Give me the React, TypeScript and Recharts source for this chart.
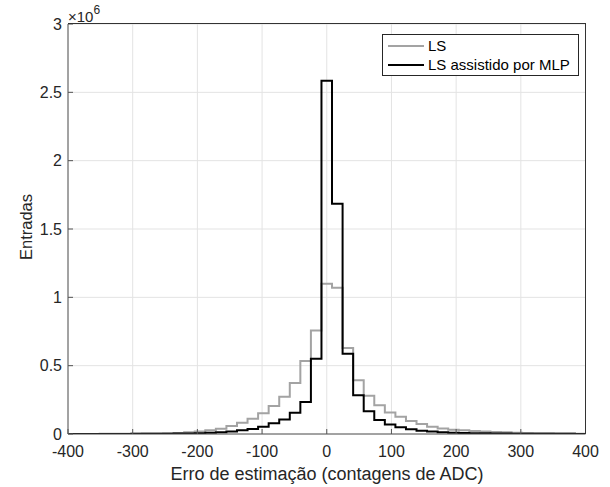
import { LineChart, Line, XAxis, YAxis, CartesianGrid } from 'recharts';

const xRange = [-400, 400];
const binCount = 49;
const xTicks = [-400, -300, -200, -100, 0, 100, 200, 300, 400];
const yTicks = [0, 0.5, 1, 1.5, 2, 2.5, 3];

// entries per bin (x 10^6), left to right
const lsCounts = [
  0.0005, 0.0006, 0.0008, 0.001, 0.001, 0.0015, 0.002, 0.003, 0.004, 0.006, 0.008, 0.012,
  0.018, 0.027, 0.039, 0.058, 0.082, 0.112, 0.151, 0.204, 0.272, 0.374, 0.534, 0.757,
  1.1, 1.07, 0.63, 0.393, 0.279, 0.211, 0.158, 0.126, 0.095, 0.073, 0.053, 0.041,
  0.032, 0.027, 0.022, 0.018, 0.015, 0.012, 0.01, 0.008, 0.006, 0.005, 0.004, 0.003, 0.002,
];
const mlpCounts = [
  0.0002, 0.0003, 0.0004, 0.0005, 0.0006, 0.0008, 0.001, 0.001, 0.0015, 0.002, 0.003, 0.004,
  0.006, 0.009, 0.013, 0.019, 0.027, 0.036, 0.053, 0.078, 0.107, 0.155, 0.235, 0.551,
  2.585, 1.685, 0.588, 0.284, 0.167, 0.102, 0.07, 0.049, 0.034, 0.024, 0.018, 0.013,
  0.01, 0.008, 0.006, 0.005, 0.004, 0.003, 0.002, 0.002, 0.001, 0.001, 0.001, 0.001, 0.0005,
];

const seriesNames = ['LS', 'LS assistido por MLP'];
const seriesColors = ['#a3a3a3', '#000000'];

// stairs: one point per left bin edge, plus the closing right edge
const binWidth = (xRange[1] - xRange[0]) / binCount;
const data = lsCounts.map((v, i) => ({ x: xRange[0] + i * binWidth, ls: v, mlp: mlpCounts[i] }));
data.push({ x: xRange[1], ls: lsCounts[binCount - 1], mlp: mlpCounts[binCount - 1] });

const font = '"Liberation Sans", Arial, Helvetica, sans-serif';
const axisColor = '#555555';
const frameColor = '#333333';
const textColor = '#262626';
const tickStyle = { fontSize: 16, fill: textColor, fontFamily: font };

const App = () => {
  return (
    <div style={{ position: 'absolute', left: 0, top: 0, width: 610, height: 487, background: '#fff', fontFamily: font }}>
      <LineChart width={610} height={487} data={data} margin={{ top: 24, right: 24.5, left: 0, bottom: 0 }}>
        <CartesianGrid stroke="#e3e3e3" strokeWidth={1} />
        <XAxis
          dataKey="x"
          type="number"
          domain={xRange}
          ticks={xTicks}
          allowDataOverflow
          height={53}
          tickSize={-5}
          tickMargin={17}
          tick={tickStyle}
          stroke={axisColor}
          tickLine={{ stroke: axisColor }}
          label={() => (
            <text x={327} y={480} textAnchor="middle" fontSize={18} fill={textColor} fontFamily={font}>
              Erro de estimação (contagens de ADC)
            </text>
          )}
        />
        <YAxis
          type="number"
          domain={[0, 3]}
          ticks={yTicks}
          allowDataOverflow
          width={68}
          tickSize={-5}
          tickMargin={11}
          tick={tickStyle}
          tickFormatter={(v) => String(v)}
          stroke={axisColor}
          tickLine={{ stroke: axisColor }}
          label={() => (
            <g fill={textColor} fontFamily={font}>
              <text x={32} y={227} transform="rotate(-90 32 227)" textAnchor="middle" fontSize={16.5}>
                Entradas
              </text>
              <text x={68} y={22} fontSize={15}>
                ×10<tspan dy={-8} fontSize={12}>6</tspan>
              </text>
            </g>
          )}
        />
        <Line
          type="stepAfter"
          dataKey="ls"
          name={seriesNames[0]}
          stroke={seriesColors[0]}
          strokeWidth={2}
          dot={false}
          isAnimationActive={false}
        />
        <Line
          type="stepAfter"
          dataKey="mlp"
          name={seriesNames[1]}
          stroke={seriesColors[1]}
          strokeWidth={2}
          dot={false}
          isAnimationActive={false}
        />
      </LineChart>
      {/* box: top and right edges of the axes */}
      <div
        style={{
          position: 'absolute',
          left: 68,
          top: 23,
          width: 517,
          height: 410,
          borderTop: `1.5px solid ${frameColor}`,
          borderRight: `1.5px solid ${frameColor}`,
          pointerEvents: 'none',
          zIndex: 5,
        }}
      />
      <div
        style={{
          position: 'absolute',
          left: 382,
          top: 34,
          width: 195,
          height: 39,
          border: '1px solid #262626',
          background: '#fff',
          fontSize: 15,
          color: '#000',
          lineHeight: '19px',
          paddingTop: 1,
          boxSizing: 'content-box',
          zIndex: 6,
        }}
      >
        {seriesNames.map((n, i) => (
          <div key={n} style={{ display: 'flex', alignItems: 'center', height: 19 }}>
            <span style={{ display: 'inline-block', width: 36, height: 2, marginLeft: 5, marginRight: 4, background: seriesColors[i] }} />
            <span>{n}</span>
          </div>
        ))}
      </div>
    </div>
  );
};

export default App;
